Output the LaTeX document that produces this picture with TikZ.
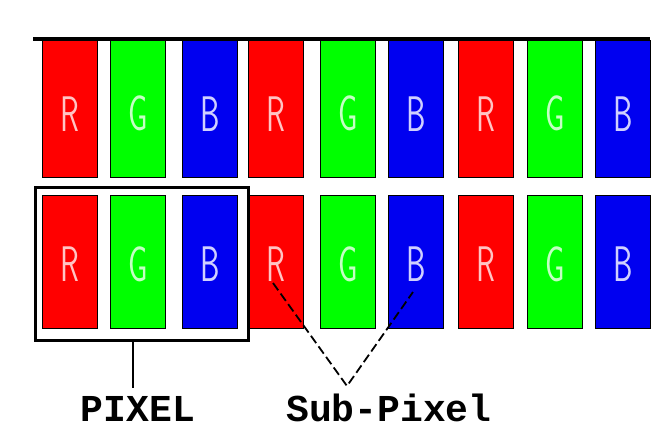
\documentclass[tikz,border=0pt]{standalone}
\usepackage{fontspec}
\newfontfamily\lblfont{Liberation Mono}
\definecolor{cr}{HTML}{FF0000}
\definecolor{cg}{HTML}{00FF00}
\definecolor{cb}{HTML}{0000F0}
\definecolor{lr}{HTML}{FFC4C4}
\definecolor{lg}{HTML}{C4FFC4}
\definecolor{lb}{HTML}{D0D0FF}
\begin{document}
\begin{tikzpicture}[x=1pt,y=-1pt,
  cellbox/.style={draw=black, line width=1.3pt, minimum width=55pt, minimum height=#1, inner sep=0pt, anchor=north west},
  letter/.style={font=\sffamily\fontsize{50}{50}\selectfont, xscale=0.62, inner sep=0pt},
  lbl/.style={font=\lblfont\bfseries\fontsize{38}{38}\selectfont, anchor=base, inner sep=0pt, text depth=0pt}]
\fill[white] (0,0) rectangle (654,429);
\useasboundingbox (0,0) rectangle (654,429);
\foreach \x/\c/\t/\l [count=\i] in {42/cr/lr/R,110/cg/lg/G,182/cb/lb/B,248/cr/lr/R,320/cg/lg/G,388/cb/lb/B,458/cr/lr/R,527/cg/lg/G,595/cb/lb/B} {
  \node[cellbox=137pt, fill=\c] (t\i) at (\x,40) {};
  \node[cellbox=133pt, fill=\c] (b\i) at (\x,195) {};
  \node[letter, text=\t] (tl\i) at ([yshift=-4.5pt]t\i.center) {\l};
  \node[letter, text=\t] (bl\i) at ([yshift=-2pt]b\i.center) {\l};
}
\draw[line width=4pt] (33,39) -- (650,39);
\node[draw=black, line width=3pt, minimum width=213pt, minimum height=153pt, anchor=north west, inner sep=0pt] (pixbox) at (34,186) {};
\node[lbl] (pixlabel) at (138,421) {PIXEL};
\node[lbl] (sublabel) at (389,421) {Sub-Pixel};
\coordinate (pixtip) at (133,388);
\draw[line width=2pt] (pixbox.south -| pixtip) -- (pixtip);
\coordinate (apex) at (347,386);
\coordinate (subL) at (273,283);
\coordinate (subR) at (413,292);
\draw[line width=1.8pt, dash pattern=on 9pt off 4pt] (subL) -- (apex) -- (subR);
\end{tikzpicture}
\end{document}
